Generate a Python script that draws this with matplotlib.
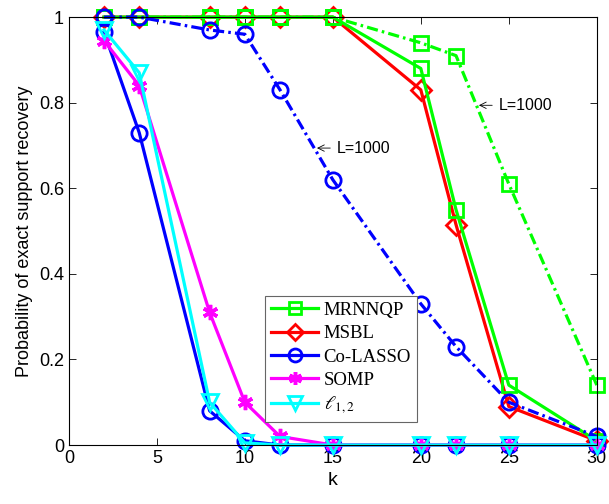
import matplotlib.pyplot as plt

# sparsity levels
k = [2, 4, 8, 10, 12, 15, 20, 22, 25, 30]

# L = 100 (solid) curves
mrnnqp = [1, 1, 1, 1, 1, 1, 0.88, 0.55, 0.14, 0.01]
msbl = [1, 1, 1, 1, 1, 1, 0.83, 0.515, 0.09, 0.01]
colasso = [0.965, 0.73, 0.08, 0.01, 0, 0, 0, 0, 0, 0]
somp = [0.945, 0.84, 0.31, 0.10, 0.02, 0, 0, 0, 0, 0]
l12 = [0.97, 0.87, 0.10, 0.005, 0, 0, 0, 0, 0, 0]

# L = 1000 (dash-dot) curves
mrnnqp_1000 = [1, 1, 1, 1, 1, 1, 0.94, 0.91, 0.61, 0.14]
colasso_1000 = [1, 1, 0.97, 0.96, 0.83, 0.62, 0.33, 0.23, 0.10, 0.02]

plt.rcParams['mathtext.fontset'] = 'stix'

fig = plt.figure(figsize=(6.09, 5.04), dpi=100)
ax = fig.add_axes([0.113, 0.117, 0.867, 0.849])

lw = 2.3
ms = 11
mew = 2
dd = (3.5, 1.3, 0.8, 1.3)  # matlab-ish dash-dot

common = dict(lw=lw, mew=mew, clip_on=False)
ax.plot(k, msbl, '-', color='#ff0000', marker='D', ms=ms - 1, mfc='none', label='MSBL', **common)
ax.plot(k, mrnnqp, '-', color='#00ff00', marker='s', ms=ms - 1, mfc='none', label='MRNNQP', **common)
ax.plot(k, mrnnqp_1000, '-.', color='#00ff00', marker='s', ms=ms - 1, mfc='none', dashes=dd, **common)
ax.plot(k, colasso, '-', color='#0000ff', marker='o', ms=ms, mfc='none', label='Co-LASSO', **common)
ax.plot(k, colasso_1000, '-.', color='#0000ff', marker='o', ms=ms, mfc='none', dashes=dd, **common)
ax.plot(k, somp, '-', color='#ff00ff', marker=(6, 2, 0), ms=ms, label='SOMP',
        lw=lw, mew=mew + 0.5, clip_on=False)
ax.plot(k, l12, '-', color='#00ffff', marker='v', ms=ms + 1, mfc='none', label=r'$\ell_{1,2}$', **common)

arrow = dict(arrowstyle='->', lw=0.6, color='black', shrinkA=3, shrinkB=0)
ax.annotate('L=1000', xy=(14.1, 0.694), xytext=(15.25, 0.694), fontsize=11.5,
            family='Liberation Sans', va='center', ha='left', arrowprops=arrow)
ax.annotate('L=1000', xy=(23.3, 0.794), xytext=(24.45, 0.794), fontsize=11.5,
            family='Liberation Sans', va='center', ha='left', arrowprops=arrow)

ax.set_xlim(0, 30)
ax.set_ylim(0, 1)
ax.set_xticks([0, 5, 10, 15, 20, 25, 30])
ax.set_yticks([0, 0.2, 0.4, 0.6, 0.8, 1])
ax.set_yticklabels(['0', '0.2', '0.4', '0.6', '0.8', '1'])
ax.tick_params(direction='in', top=True, right=True, labelsize=13, length=5, width=0.6)
for lab in ax.get_xticklabels() + ax.get_yticklabels():
    lab.set_family('Liberation Sans')
for s in ax.spines.values():
    s.set_linewidth(0.8)

ax.set_xlabel('k', fontsize=14, family='Liberation Sans')
ax.set_ylabel('Probability of exact support recovery', fontsize=13, family='Liberation Sans')

h, l = ax.get_legend_handles_labels()
order = [1, 0, 2, 3, 4]
leg = ax.legend([h[i] for i in order], [l[i] for i in order], loc='lower left',
                bbox_to_anchor=(0.3725, 0.054), prop={'family': 'Liberation Serif', 'size': 13.5},
                fancybox=False, edgecolor='#666666', framealpha=1, handlelength=2.5,
                borderpad=0.3, labelspacing=0.33, handletextpad=0.3, borderaxespad=0,
                markerscale=0.85)
leg.get_frame().set_linewidth(0.8)

fig.savefig('out.png', dpi=100)
